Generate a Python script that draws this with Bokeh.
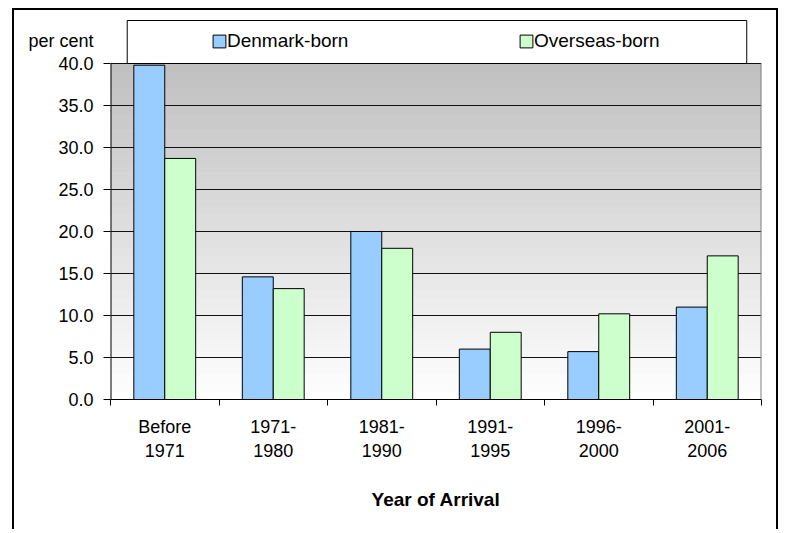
import numpy as np
from bokeh.plotting import figure
from bokeh.models import (Range1d, LinearAxis, FixedTicker, Grid, Legend, ColumnDataSource)
from bokeh.embed import file_html
from bokeh.resources import INLINE

# ---- data ----
categories = ["Before\n1971", "1971-\n1980", "1981-\n1990", "1991-\n1995", "1996-\n2000", "2001-\n2006"]
series_names = ["Denmark-born", "Overseas-born"]
denmark_born = [39.8, 14.6, 20.0, 6.0, 5.7, 11.0]
overseas_born = [28.7, 13.2, 18.0, 8.0, 10.2, 17.1]
y_ticks = [0, 5, 10, 15, 20, 25, 30, 35, 40]
x_title = "Year of Arrival"
y_unit = "per cent"

FONT = "Liberation Sans"
C_DK = "#99CCFF"
C_OS = "#CCFFCC"
Y_MAX = 40
Y_TOP = 45.24     # extra room above the value axis for the legend box
Y_UNIT_POS = 42.7  # where the unit text sits, above the top tick
BAR_W = 0.285

ncat = len(categories)
centers = np.arange(ncat) + 0.5
src = ColumnDataSource(dict(x_dk=centers - BAR_W / 2, x_os=centers + BAR_W / 2,
                            dk=denmark_born, os=overseas_born))

p = figure(width=766, height=521,
           x_range=Range1d(0, ncat), y_range=Range1d(0, Y_TOP),
           x_axis_type=None, y_axis_type=None,
           output_backend="svg", toolbar_location=None,
           min_border_left=96, min_border_right=19, min_border_top=9, min_border_bottom=132,
           background_fill_color="white", border_fill_color="white",
           outline_line_color=None)
p.styles = {"border-top": "2px solid black", "border-left": "2px solid black",
            "border-right": "2px solid black", "margin-left": "12px", "margin-top": "8px"}

# gradient plot-area background (grey at top -> white at bottom)
n = 40
edges = np.linspace(0, Y_MAX, n + 1)
shades = np.linspace(254, 192, n)
cols = ["#%02x%02x%02x" % (int(round(s)), int(round(s)), int(round(s))) for s in shades]
bg = p.quad(left=0, right=ncat, bottom=edges[:-1], top=edges[1:] + 0.06,
            fill_color=cols, line_color=None)
bg.level = "image"

# gridlines
grid = Grid(dimension=1, ticker=FixedTicker(ticks=y_ticks), grid_line_color="#111111",
            grid_line_width=1)
p.add_layout(grid)

# left axis line and right edge of plot area
p.segment(x0=[0], y0=[0], x1=[0], y1=[Y_MAX], line_color="black", line_width=2)
p.segment(x0=[ncat], y0=[0], x1=[ncat], y1=[Y_MAX], line_color="#808080", line_width=2)

# legend box
p.quad(left=[0.154], right=[5.864], bottom=[Y_MAX], top=[45.12],
       fill_color="white", line_color="black", line_width=1)

# bars
r_dk = p.vbar(x="x_dk", top="dk", width=BAR_W, source=src,
              fill_color=C_DK, line_color="black", line_width=1)
r_os = p.vbar(x="x_os", top="os", width=BAR_W, source=src,
              fill_color=C_OS, line_color="black", line_width=1)

legend = Legend(items=[(series_names[0], [r_dk]), (series_names[1], [r_os])],
                orientation="horizontal", location=(101, 347), padding=0, spacing=141, margin=0,
                border_line_color=None, background_fill_alpha=0,
                glyph_width=16, glyph_height=16, label_standoff=0, label_width=150,
                label_height=16, label_text_font=FONT, label_text_font_size="19px",
                label_text_color="black")
p.add_layout(legend)

# y axis (ticks drawn as minor ticks so the unit text can sit on an unmarked major tick)
y_labels = {float(t): "%.1f" % t for t in y_ticks}
y_labels[Y_UNIT_POS] = y_unit
yax = LinearAxis(ticker=FixedTicker(ticks=y_ticks + [Y_UNIT_POS], minor_ticks=y_ticks),
                 major_label_overrides=y_labels,
                 major_tick_out=7, major_tick_in=0, major_tick_line_color=None,
                 minor_tick_out=7, minor_tick_in=0, minor_tick_line_color="black",
                 axis_line_color=None, major_label_text_font=FONT,
                 major_label_text_font_size="18px", major_label_text_color="black",
                 major_label_standoff=10)
p.add_layout(yax, "left")

# x axis: labels at category centres, tick marks at category boundaries
xax = LinearAxis(ticker=FixedTicker(ticks=list(centers), minor_ticks=list(range(ncat + 1))),
                 major_label_overrides={float(c): lab for c, lab in zip(centers, categories)},
                 major_tick_line_color=None, major_tick_out=6, major_tick_in=0,
                 minor_tick_line_color="black", minor_tick_out=6, minor_tick_in=0,
                 axis_line_color="black",
                 major_label_text_font=FONT, major_label_text_font_size="18px",
                 major_label_text_color="black", major_label_standoff=11,
                 axis_label=x_title, axis_label_text_font=FONT,
                 axis_label_text_font_style="bold", axis_label_text_font_size="19px",
                 axis_label_text_color="black", axis_label_standoff=25)
p.add_layout(xax, "below")

open("out.html", "w").write(file_html(p, INLINE))
